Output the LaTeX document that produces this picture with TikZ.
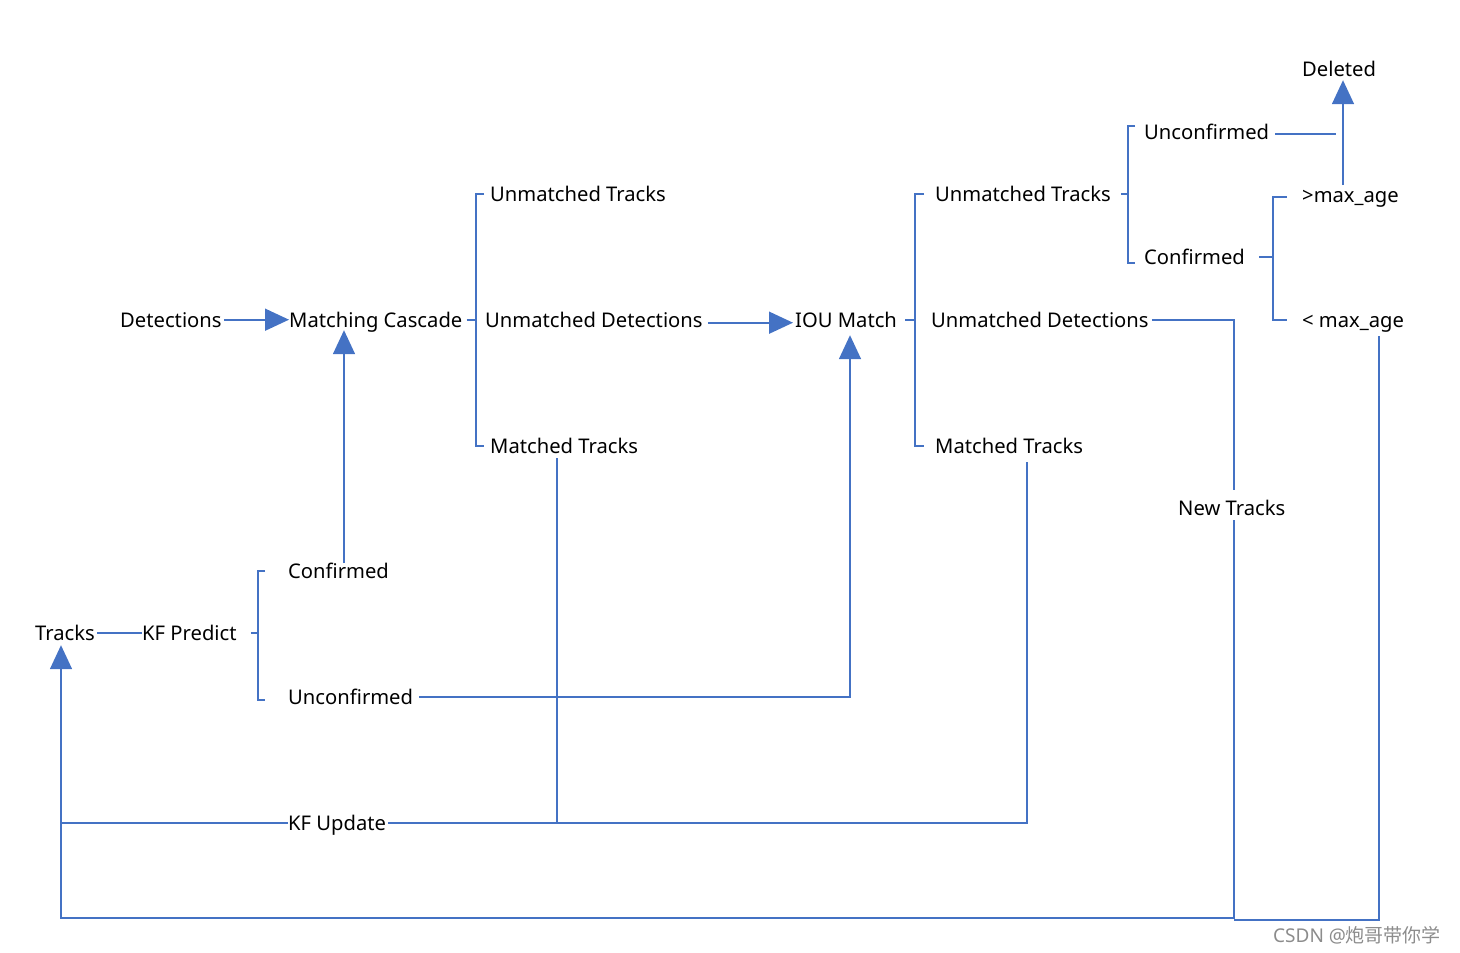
\documentclass[tikz,border=0pt]{standalone}
\usepackage{fontspec}
\setmainfont{Noto Sans}
\newfontfamily\cjk{Noto Sans CJK SC}
\usetikzlibrary{arrows.meta,calc}
\definecolor{ob}{HTML}{4472C4}
\begin{document}
\begin{tikzpicture}[x=1pt,y=-1pt,
 lbl/.style={inner sep=0pt, anchor=base west, font=\fontsize{20.2}{24}\selectfont, text height=14.6pt, text depth=0pt},
 ln/.style={draw=ob, line width=1.6pt},
 arr/.style={ln, -{Triangle[length=24pt,width=22pt]}}]
\useasboundingbox (0,0) rectangle (1460,953);
% labels
\node[lbl] (det) at (120,327) {Detections};
\node[lbl] (mc) at (289,327) {Matching Cascade};
\node[lbl] (ut1) at (490,201) {Unmatched Tracks};
\node[lbl] (ud1) at (485,327) {Unmatched Detections};
\node[lbl] (mt1) at (490,453) {Matched Tracks};
\node[lbl] (iou) at (795,327) {IOU Match};
\node[lbl] (ut2) at (935,201) {Unmatched Tracks};
\node[lbl] (ud2) at (931,327) {Unmatched Detections};
\node[lbl] (mt2) at (935,453) {Matched Tracks};
\node[lbl] (uc3) at (1144,139) {Unconfirmed};
\node[lbl] (cf3) at (1144,264) {Confirmed};
\node[lbl] (gt) at (1302,202) {>max\_age};
\node[lbl] (lt) at (1302,327) {<\ max\_age};
\node[lbl] (del) at (1302,76) {Deleted};
\node[lbl] (nt) at (1178,515) {New Tracks};
\node[lbl] (trk) at (35,640) {Tracks};
\node[lbl] (kfp) at (142,640) {KF Predict};
\node[lbl] (cf5) at (288,578) {Confirmed};
\node[lbl] (uc5) at (288,704) {Unconfirmed};
\node[lbl] (kfu) at (288,830) {KF Update};
\node[anchor=base west, inner sep=0pt, text=black!45, font=\fontsize{19}{22}\selectfont] (wm) at (1273,942) {CSDN @{\cjk 炮哥带你学}};
% helper coordinates
\coordinate (s1) at (476,0);
\coordinate (s2) at (915,0);
\coordinate (s3) at (1128,0);
\coordinate (s4) at (1273,0);
\coordinate (s5) at (258,0);
\coordinate (ntx) at (1234,0);
\coordinate (lx) at (61,0);
\coordinate (ue) at (1336,0);
\coordinate (rx) at (1379,0);
\coordinate (by) at (0,918);
% connectors
\draw[arr,shorten <=2pt] (det.east) -- (mc.west);
\draw[arr] ([xshift=56pt]cf5.north west) -- ([xshift=55pt,yshift=-3pt]mc.south west);
\draw[ln] ([xshift=4pt]mc.east) -- (s1 |- mc.east);
\draw[ln] ([xshift=-6pt]ut1.west) -- (s1 |- ut1.west) -- (s1 |- mt1.west) -- ([xshift=-6pt]mt1.west);
\draw[arr] ([xshift=5pt,yshift=-3pt]ud1.east) -- ([xshift=-2pt,yshift=-3pt]iou.west);
\draw[arr] ([xshift=6pt]uc5.east) -| ([xshift=55pt,yshift=-8pt]iou.south west);
\draw[ln] ([xshift=8pt]iou.east) -- (s2 |- iou.east);
\draw[ln] ([xshift=-11pt]ut2.west) -- (s2 |- ut2.west) -- (s2 |- mt2.west) -- ([xshift=-11pt]mt2.west);
\draw[ln] ([xshift=10pt]ut2.east) -- (s3 |- ut2.east);
\draw[ln] ([xshift=-9pt,yshift=6pt]uc3.west) -- ([yshift=6pt]s3 |- uc3.west) -- ([yshift=-6pt]s3 |- cf3.west) -- ([xshift=-9pt,yshift=-6pt]cf3.west);
\draw[ln] ([xshift=6pt,yshift=-2pt]uc3.east) -- ([yshift=-2pt]ue |- uc3.east);
\draw[ln] ([xshift=14pt]cf3.east) -- (s4 |- cf3.east);
\draw[ln] ([xshift=-15pt,yshift=-2pt]gt.west) -- ([yshift=-2pt]s4 |- gt.west) -- (s4 |- lt.west) -- ([xshift=-15pt]lt.west);
\draw[arr] ([xshift=41pt,yshift=2pt]gt.north west) -- ([xshift=41pt,yshift=-4pt]del.south west);
\draw[ln] ([xshift=3pt]ud2.east) -| ([yshift=10pt]ntx |- nt.north);
\draw[arr] ([yshift=-5pt]ntx |- nt.south) -- (ntx |- by) -- (lx |- by) -- ([yshift=-5pt]lx |- trk.south);
\draw[ln] ([yshift=-9pt]rx |- lt.south) -- ([yshift=-2pt]rx |- by) -- ([yshift=-2pt]ntx |- by);
\draw[ln] ([xshift=92pt,yshift=-9pt]mt2.south west) |- ([xshift=2pt]kfu.east);
\coordinate (m1) at ([xshift=67pt,yshift=-5pt]mt1.south west);
\draw[ln] (m1) -- (m1 |- kfu.east);
\draw[ln] (kfu.west) -- (lx |- kfu.west);
\draw[ln] ([xshift=2pt]trk.east) -- (kfp.west);
\draw[ln] ([xshift=14pt]kfp.east) -- (s5 |- kfp.east);
\draw[ln] ([xshift=-23pt]cf5.west) -- (s5 |- cf5.west) -- ([yshift=-3pt]s5 |- uc5.west) -- ([xshift=-23pt,yshift=-3pt]uc5.west);
\end{tikzpicture}
\end{document}
